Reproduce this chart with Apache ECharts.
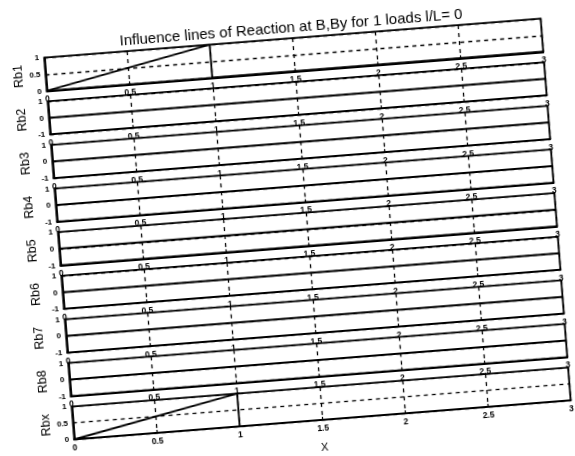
<!DOCTYPE html>
<html><head><meta charset="utf-8">
<script src="https://cdn.jsdelivr.net/npm/echarts/dist/echarts.min.js"></script>
<style>
html,body{margin:0;padding:0;background:#fff;overflow:hidden;width:575px;height:456px}
#c{width:575px;height:456px;transform:rotate(-4.5deg);transform-origin:50% 50%;}
</style></head><body><div id="c"></div>
<script>
// ---- data ----
const panelNames = ['Rb1', 'Rb2', 'Rb3', 'Rb4', 'Rb5', 'Rb6', 'Rb7', 'Rb8', 'Rbx'];
const loadX = [0, 1, 1, 3];
const rb1 = [0, 1, 0, 0];
const rb2 = [0, 0, 0, 0];
const rb3 = [0, 0, 0, 0];
const rb4 = [0, 0, 0, 0];
const rb5 = [0, 0, 0, 0];
const rb6 = [0, 0, 0, 0];
const rb7 = [0, 0, 0, 0];
const rb8 = [0, 0, 0, 0];
const rbx = [0, 1, 0, 0];
const xTicks = [0, 0.5, 1, 1.5, 2, 2.5, 3];
const yTicksUnit = [0, 0.5, 1];
const yTicksSym = [-1, 0, 1];
const titleText = 'Influence lines of Reaction at B,By for 1 loads l/L= 0';
const xAxisTitle = 'X';

const panelValues = [rb1, rb2, rb3, rb4, rb5, rb6, rb7, rb8, rbx];
const panelTicks = [yTicksUnit, yTicksSym, yTicksSym, yTicksSym, yTicksSym, yTicksSym, yTicksSym, yTicksSym, yTicksUnit];

// ---- layout ----
const FONT = '"Liberation Sans", Arial, Helvetica, sans-serif';
const L = 58.3, W = 498, T0 = 39.1, STEP = 43.75, H = 33.3;
const grids = [], xAxes = [], yAxes = [], series = [];
const dash = {color: '#000', width: 1.3, type: [4, 4]};
panelNames.forEach((name, i) => {
  const ticks = panelTicks[i];
  grids.push({left: L, width: W, top: T0 + i * STEP, height: H, show: true,
    borderColor: '#000', borderWidth: 1.8, backgroundColor: 'transparent'});
  const last = i === panelNames.length - 1;
  xAxes.push({gridIndex: i, type: 'value', min: xTicks[0], max: xTicks[xTicks.length - 1],
    interval: xTicks[1] - xTicks[0],
    axisLine: {show: true, onZero: false, lineStyle: {color: '#000', width: 1.8}},
    axisTick: {show: true, inside: true, length: 3, lineStyle: {color: '#000', width: 1.2}},
    axisLabel: {fontSize: 8.5, fontWeight: 'bold', color: '#000', margin: 4, fontFamily: FONT},
    splitLine: {show: true, lineStyle: dash},
    name: last ? xAxisTitle : '', nameLocation: 'middle', nameGap: 22, nameMoveOverlap: false,
    nameTextStyle: {fontSize: 11, color: '#000', fontFamily: FONT}});
  yAxes.push({gridIndex: i, type: 'value', min: ticks[0], max: ticks[ticks.length - 1],
    interval: ticks[1] - ticks[0],
    axisLine: {show: true, onZero: false, lineStyle: {color: '#000', width: 1.8}},
    axisTick: {show: true, inside: true, length: 3, lineStyle: {color: '#000', width: 1.2}},
    axisLabel: {fontSize: 8, fontWeight: 'bold', color: '#000', margin: 5, fontFamily: FONT},
    splitLine: {show: true, lineStyle: dash},
    name: name, nameLocation: 'middle', nameRotate: 90, nameGap: 20, nameMoveOverlap: false,
    nameTextStyle: {fontSize: 12.5, color: '#000', fontFamily: FONT}});
  series.push({type: 'line', xAxisIndex: i, yAxisIndex: i, symbol: 'none', silent: true,
    data: loadX.map((x, k) => [x, panelValues[i][k]]),
    lineStyle: {color: '#000', width: 1.8}, z: 5});
});

const chart = echarts.init(document.getElementById('c'), null, {renderer: 'canvas'});
chart.setOption({
  animation: false,
  backgroundColor: '#fff',
  grid: grids, xAxis: xAxes, yAxis: yAxes, series: series,
  graphic: [{type: 'text', x: 306.7, y: 29,
    style: {text: titleText, align: 'center', verticalAlign: 'middle', fill: '#000',
      font: '15px ' + FONT}}]
});
</script></body></html>
